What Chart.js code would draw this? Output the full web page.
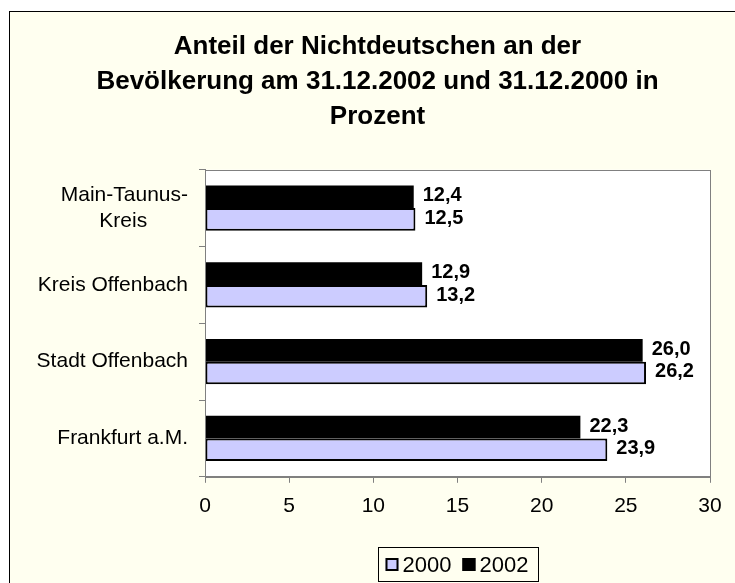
<!DOCTYPE html>
<html>
<head>
<meta charset="utf-8">
<script src="https://cdn.jsdelivr.net/npm/chart.js@4/dist/chart.umd.min.js"></script>
<style>
  html, body { margin: 0; padding: 0; background: #ffffff; overflow: hidden; width: 735px; height: 583px; }
  #frame { position: absolute; left: 9px; top: 11px; width: 800px; height: 700px; border-left: 1px solid #000; border-top: 1px solid #000; background: #FFFFF0; }
  #wrap { position: absolute; left: 0; top: 0; width: 755px; height: 583px; }
</style>
</head>
<body>
<div id="frame"></div>
<div id="wrap"><canvas id="c" width="755" height="583"></canvas></div>
<script>
const categories = [['Main-Taunus-', 'Kreis'], 'Kreis Offenbach', 'Stadt Offenbach', 'Frankfurt a.M.'];
const values2002 = [12.4, 12.9, 26.0, 22.3];
const values2000 = [12.5, 13.2, 26.2, 23.9];
const seriesNames = ['2002', '2000'];
const xTicks = [0, 5, 10, 15, 20, 25, 30];
const titleLines = ['Anteil der Nichtdeutschen an der', 'Bevölkerung am 31.12.2002 und 31.12.2000 in', 'Prozent'];

const FONT = "'Liberation Sans', Arial, sans-serif";
const TICK_FONT = '21px ' + FONT;

// centre the lines of a wrapped category label on each other (right-aligned axis)
const measureCtx = document.createElement('canvas').getContext('2d');
function centreLines(label) {
  if (!Array.isArray(label)) return label;
  measureCtx.font = TICK_FONT;
  const widths = label.map(s => measureCtx.measureText(s).width);
  const maxW = Math.max(...widths);
  const sp = measureCtx.measureText(' ').width;
  return label.map((s, i) => s + ' '.repeat(Math.round((maxW - widths[i]) / 2 / sp)));
}

const plotPlugin = {
  id: 'plotDeco',
  afterLayout(chart) {
    if (chart.titleBlock) {
      chart.titleBlock.left = 0;
      chart.titleBlock.right = chart.width;
      chart.titleBlock.width = chart.width;
    }
  },
  beforeDraw(chart) {
    const { ctx, chartArea: a } = chart;
    ctx.save();
    ctx.fillStyle = '#ffffff';
    ctx.fillRect(a.left, a.top, a.right - a.left, a.bottom - a.top);
    ctx.restore();
  },
  afterDatasetsDraw(chart) {
    const ctx = chart.ctx;
    ctx.save();
    ctx.font = 'bold 20px ' + FONT;
    ctx.fillStyle = '#000';
    ctx.textAlign = 'left';
    ctx.textBaseline = 'middle';
    chart.data.datasets.forEach((ds, i) => {
      const meta = chart.getDatasetMeta(i);
      meta.data.forEach((el, j) => {
        const v = ds.data[j];
        ctx.fillText(v.toFixed(1).replace('.', ','), el.x + 9, el.y - 1);
      });
    });
    ctx.restore();
  },
  afterDraw(chart) {
    const { ctx, chartArea: a } = chart;
    ctx.save();
    ctx.strokeStyle = '#808080';
    ctx.lineWidth = 1;
    ctx.strokeRect(Math.round(a.left) + 0.5, Math.round(a.top) + 0.5, Math.round(a.right - a.left), Math.round(a.bottom - a.top));
    // legend
    ctx.font = '22px ' + FONT;
    const items = chart.data.datasets.slice().reverse();
    const sq = 13, padL = 7, padR = 10, gapT = 4, gapI = 11;
    let w = padL + padR;
    items.forEach((ds, k) => {
      w += sq + gapT + ctx.measureText(ds.label).width;
      if (k < items.length - 1) w += gapI;
    });
    const cx = (a.left + a.right) / 2;
    const bx = Math.round(cx - w / 2) + 0.5;
    const by = 547.5, bh = 34;
    ctx.lineWidth = 1;
    ctx.strokeStyle = '#000';
    ctx.strokeRect(bx, by, Math.round(w), bh);
    let x = bx + padL;
    const cy = by + bh / 2;
    ctx.textBaseline = 'middle';
    ctx.textAlign = 'left';
    items.forEach((ds) => {
      ctx.fillStyle = ds.backgroundColor;
      ctx.fillRect(x, cy - sq / 2, sq, sq);
      ctx.lineWidth = 2;
      ctx.strokeStyle = '#000';
      ctx.strokeRect(x + 1, cy - sq / 2 + 1, sq - 2, sq - 2);
      x += sq + gapT;
      ctx.fillStyle = '#000';
      ctx.fillText(ds.label, x, cy + 1);
      x += ctx.measureText(ds.label).width + gapI;
    });
    ctx.restore();
  }
};

new Chart(document.getElementById('c'), {
  type: 'bar',
  data: {
    labels: categories,
    datasets: [
      { label: seriesNames[0], data: values2002, backgroundColor: '#000000', borderColor: '#000000', borderWidth: 0 },
      { label: seriesNames[1], data: values2000, backgroundColor: '#CCCCFF', borderColor: '#000000', borderWidth: 2, borderSkipped: false }
    ]
  },
  options: {
    indexAxis: 'y',
    responsive: false,
    animation: false,
    devicePixelRatio: 1,
    layout: { padding: { left: 0, right: 45, top: 0, bottom: 53 } },
    datasets: { bar: { categoryPercentage: 0.59, barPercentage: 1.0 } },
    plugins: {
      legend: { display: false },
      tooltip: { enabled: false },
      title: {
        display: true,
        text: titleLines,
        color: '#000',
        font: { family: FONT, size: 26, weight: 'bold', lineHeight: 1.33 },
        padding: { top: 30, bottom: 36 }
      }
    },
    scales: {
      x: {
        min: 0, max: 30,
        afterBuildTicks(scale) { scale.ticks = xTicks.map(v => ({ value: v })); },
        grid: { drawOnChartArea: false, drawTicks: true, tickLength: 6, color: '#808080' },
        border: { display: true, color: '#808080' },
        ticks: { color: '#000', font: { family: FONT, size: 21 }, padding: 11, maxRotation: 0 }
      },
      y: {
        afterFit(scale) { scale.width = 205; },
        grid: { drawOnChartArea: false, drawTicks: true, tickLength: 6, color: '#808080', offset: true },
        border: { display: true, color: '#808080' },
        ticks: {
          color: '#000', font: { family: FONT, size: 21, lineHeight: 1.24 }, padding: 11,
          callback(value) { return centreLines(this.getLabelForValue(value)); }
        }
      }
    }
  },
  plugins: [plotPlugin]
});
</script>
</body>
</html>
